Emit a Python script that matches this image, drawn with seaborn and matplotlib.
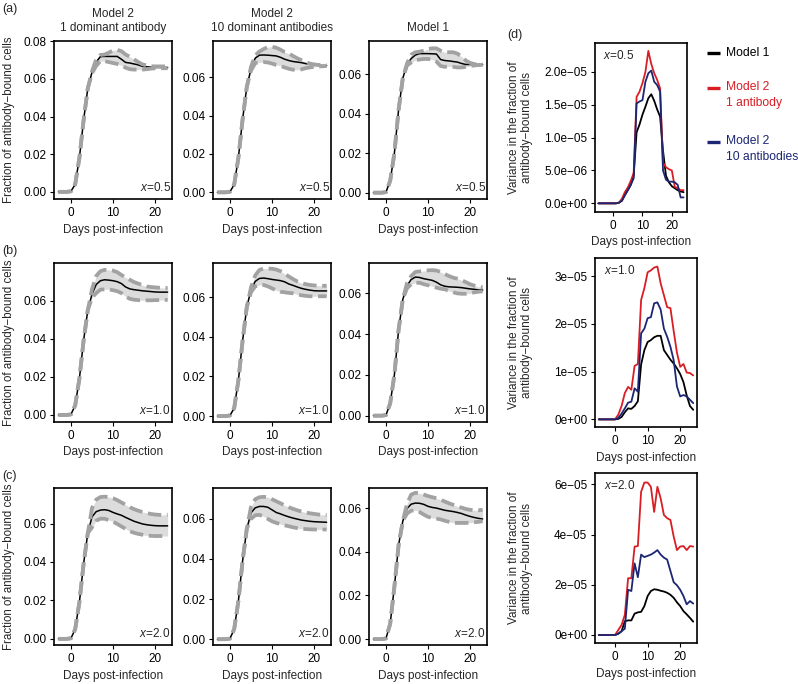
import seaborn as sns
import matplotlib.pyplot as plt
from matplotlib.lines import Line2D
from matplotlib.ticker import FormatStrFormatter

# ---- data -------------------------------------------------------------
days = list(range(-3, 24))          # panels (a)-(c)
var_days = list(range(-5, 25))      # panel (d)

# x = 0.5
x05_m2one_mean = [0, 0, 0, 0.0003, 0.004, 0.018, 0.038, 0.055, 0.0636, 0.069, 0.0719, 0.072, 0.072, 0.072, 0.072,
                  0.0705, 0.0688, 0.0685, 0.068, 0.0675, 0.0667, 0.0665, 0.0663, 0.0662, 0.0662, 0.0661, 0.0661]
x05_m2one_hi = [0, 0, 0, 0.0003, 0.004, 0.018, 0.038, 0.055, 0.064, 0.0705, 0.0728, 0.073, 0.074, 0.0752, 0.0755,
                0.0748, 0.073, 0.0718, 0.0705, 0.069, 0.0678, 0.0672, 0.0668, 0.0667, 0.0667, 0.0667, 0.0667]
x05_m2one_lo = [0, 0, 0, 0.0003, 0.004, 0.018, 0.038, 0.055, 0.063, 0.067, 0.0695, 0.0695, 0.069, 0.0685, 0.068,
                0.0672, 0.066, 0.0652, 0.065, 0.065, 0.065, 0.0652, 0.0655, 0.0657, 0.0657, 0.0657, 0.0657]
x05_m2ten_mean = [0, 0, 0, 0.0003, 0.004, 0.018, 0.038, 0.055, 0.0645, 0.07, 0.0716, 0.0717, 0.0716, 0.0714, 0.0712,
                  0.0705, 0.0695, 0.0688, 0.0683, 0.068, 0.0677, 0.0672, 0.0668, 0.0665, 0.0663, 0.0662, 0.0662]
x05_m2ten_hi = [0, 0, 0, 0.0003, 0.004, 0.018, 0.038, 0.055, 0.0655, 0.0715, 0.0735, 0.0748, 0.0758, 0.076, 0.0755,
                0.0745, 0.0732, 0.0725, 0.0712, 0.07, 0.069, 0.068, 0.0672, 0.0668, 0.0665, 0.0665, 0.0665]
x05_m2ten_lo = [0, 0, 0, 0.0003, 0.004, 0.018, 0.038, 0.055, 0.0635, 0.0675, 0.0678, 0.068, 0.0678, 0.0672, 0.0665,
                0.066, 0.0652, 0.0645, 0.064, 0.064, 0.0642, 0.0648, 0.0652, 0.0655, 0.0657, 0.0658, 0.0659]
x05_m1_mean = [0, 0, 0, 0.0003, 0.006, 0.02, 0.042, 0.058, 0.065, 0.068, 0.0698, 0.0705, 0.0705, 0.0705, 0.0704,
               0.0703, 0.0675, 0.067, 0.0668, 0.0665, 0.0662, 0.0655, 0.065, 0.065, 0.065, 0.065, 0.065]
x05_m1_hi = [0, 0, 0, 0.0003, 0.006, 0.02, 0.042, 0.058, 0.0655, 0.07, 0.0712, 0.0715, 0.072, 0.0728, 0.0732,
             0.0732, 0.072, 0.0712, 0.0712, 0.0712, 0.0705, 0.069, 0.067, 0.0658, 0.0652, 0.065, 0.065]
x05_m1_lo = [0, 0, 0, 0.0003, 0.006, 0.02, 0.042, 0.058, 0.0645, 0.066, 0.0672, 0.0675, 0.0678, 0.0678, 0.0675,
             0.0665, 0.0642, 0.0638, 0.064, 0.0638, 0.0635, 0.0635, 0.0638, 0.0642, 0.0645, 0.0647, 0.0648]

# x = 1.0
x10_m2one_mean = [0, 0, 0, 0.0003, 0.005, 0.019, 0.039, 0.055, 0.0635, 0.0685, 0.0705, 0.071, 0.0708, 0.0705, 0.07,
                  0.069, 0.0672, 0.0662, 0.0658, 0.0655, 0.0652, 0.065, 0.0648, 0.0646, 0.0645, 0.0645, 0.0645]
x10_m2one_hi = [0, 0, 0, 0.0003, 0.005, 0.019, 0.039, 0.055, 0.066, 0.073, 0.0755, 0.0762, 0.0762, 0.0758, 0.075,
                0.0735, 0.0722, 0.071, 0.0698, 0.069, 0.0682, 0.0675, 0.0672, 0.067, 0.0668, 0.0667, 0.0667]
x10_m2one_lo = [0, 0, 0, 0.0003, 0.005, 0.019, 0.039, 0.055, 0.0615, 0.064, 0.0658, 0.066, 0.066, 0.0655, 0.065,
                0.064, 0.0622, 0.061, 0.0605, 0.0603, 0.0602, 0.0602, 0.0602, 0.0603, 0.0603, 0.0604, 0.0604]
x10_m2ten_mean = [0, 0, 0, 0.0003, 0.004, 0.018, 0.038, 0.055, 0.0638, 0.068, 0.0695, 0.0697, 0.0694, 0.069, 0.0687,
                  0.0684, 0.0678, 0.0667, 0.066, 0.0652, 0.0645, 0.064, 0.0636, 0.0633, 0.0632, 0.0632, 0.0632]
x10_m2ten_hi = [0, 0, 0, 0.0003, 0.004, 0.018, 0.038, 0.055, 0.065, 0.071, 0.0738, 0.0745, 0.0745, 0.0744, 0.074,
                0.0732, 0.0718, 0.0705, 0.0692, 0.068, 0.0672, 0.0666, 0.0662, 0.066, 0.0658, 0.0658, 0.0658]
x10_m2ten_lo = [0, 0, 0, 0.0003, 0.004, 0.018, 0.038, 0.055, 0.0625, 0.0655, 0.0662, 0.0662, 0.0655, 0.0645, 0.0635,
                0.0628, 0.0625, 0.0622, 0.062, 0.0615, 0.061, 0.0607, 0.0605, 0.0605, 0.0605, 0.0605, 0.0605]
x10_m1_mean = [0, 0, 0, 0.0003, 0.006, 0.02, 0.042, 0.057, 0.0638, 0.0668, 0.068, 0.0678, 0.0672, 0.0668, 0.0664,
               0.0655, 0.0642, 0.0635, 0.0632, 0.0631, 0.063, 0.0628, 0.0625, 0.0622, 0.062, 0.0617, 0.0616]
x10_m1_hi = [0, 0, 0, 0.0003, 0.006, 0.02, 0.042, 0.057, 0.065, 0.0685, 0.0705, 0.0708, 0.071, 0.0713, 0.0714,
             0.0712, 0.0705, 0.0695, 0.0685, 0.0677, 0.0672, 0.0665, 0.0655, 0.0645, 0.0638, 0.0632, 0.063]
x10_m1_lo = [0, 0, 0, 0.0003, 0.006, 0.02, 0.042, 0.057, 0.0625, 0.0645, 0.0652, 0.0652, 0.0645, 0.064, 0.0635,
             0.0628, 0.0623, 0.062, 0.0612, 0.0605, 0.06, 0.0598, 0.0598, 0.06, 0.0605, 0.0608, 0.061]

# x = 2.0
x20_m2one_mean = [0, 0, 0, 0.0003, 0.005, 0.019, 0.039, 0.055, 0.0635, 0.0662, 0.067, 0.0672, 0.0668, 0.0658, 0.065,
                  0.0643, 0.0632, 0.0622, 0.0612, 0.0605, 0.0598, 0.0594, 0.0591, 0.0589, 0.0588, 0.0588, 0.0588]
x20_m2one_hi = [0, 0, 0, 0.0003, 0.005, 0.019, 0.039, 0.055, 0.068, 0.0725, 0.0738, 0.074, 0.0738, 0.0732, 0.0722,
                0.071, 0.0698, 0.0685, 0.0675, 0.0667, 0.066, 0.0655, 0.065, 0.0647, 0.0645, 0.0645, 0.0647]
x20_m2one_lo = [0, 0, 0, 0.0003, 0.005, 0.019, 0.039, 0.055, 0.058, 0.0615, 0.0625, 0.0625, 0.0618, 0.061, 0.0598,
                0.0585, 0.0572, 0.056, 0.0552, 0.0546, 0.0542, 0.0538, 0.0536, 0.0535, 0.0535, 0.0535, 0.0535]
x20_m2ten_mean = [0, 0, 0, 0.0003, 0.005, 0.019, 0.039, 0.055, 0.063, 0.0655, 0.0662, 0.0662, 0.0658, 0.0645, 0.0632,
                  0.0625, 0.0617, 0.061, 0.0604, 0.0599, 0.0594, 0.0591, 0.0588, 0.0586, 0.0585, 0.0584, 0.0583]
x20_m2ten_hi = [0, 0, 0, 0.0003, 0.005, 0.019, 0.039, 0.055, 0.066, 0.0698, 0.0708, 0.071, 0.0708, 0.0698, 0.0688,
                0.0678, 0.0668, 0.0658, 0.065, 0.0643, 0.0637, 0.0632, 0.0628, 0.0625, 0.0622, 0.062, 0.062]
x20_m2ten_lo = [0, 0, 0, 0.0003, 0.005, 0.019, 0.039, 0.055, 0.06, 0.0618, 0.062, 0.0612, 0.06, 0.0588, 0.058,
                0.0574, 0.0568, 0.0563, 0.0558, 0.0554, 0.0551, 0.0549, 0.0548, 0.0547, 0.0547, 0.0547, 0.0547]
x20_m1_mean = [0, 0, 0, 0.0003, 0.007, 0.024, 0.043, 0.054, 0.0598, 0.0618, 0.0623, 0.0622, 0.0617, 0.0608, 0.0603,
               0.06, 0.0595, 0.059, 0.0587, 0.0584, 0.058, 0.0575, 0.0568, 0.0562, 0.0557, 0.0553, 0.055]
x20_m1_hi = [0, 0, 0, 0.0003, 0.007, 0.024, 0.043, 0.054, 0.062, 0.0662, 0.067, 0.0668, 0.0662, 0.0655, 0.065,
             0.0645, 0.0638, 0.063, 0.0622, 0.0615, 0.0608, 0.0602, 0.0596, 0.0592, 0.059, 0.059, 0.0592]
x20_m1_lo = [0, 0, 0, 0.0003, 0.007, 0.024, 0.043, 0.054, 0.0575, 0.0588, 0.059, 0.0582, 0.057, 0.056, 0.0555,
             0.0552, 0.0548, 0.0542, 0.0537, 0.0533, 0.0532, 0.0532, 0.0532, 0.0533, 0.0535, 0.0537, 0.054]

# variance, panel (d)
var05_m1 = [0, 0, 0, 0, 0, 0, 0, 0.1e-6, 0.4e-6, 1.3e-6, 2.0e-6, 2.8e-6, 4.2e-6, 10.8e-6, 12.0e-6, 13.5e-6, 14.7e-6,
            16.0e-6, 16.6e-6, 15.6e-6, 14.3e-6, 13.2e-6, 8.0e-6, 4.2e-6, 3.2e-6, 2.6e-6, 2.3e-6, 2.0e-6, 1.8e-6, 1.7e-6]
var05_m2one = [0, 0, 0, 0, 0, 0, 0, 0.1e-6, 0.7e-6, 1.7e-6, 2.4e-6, 3.4e-6, 4.6e-6, 16.2e-6, 17.0e-6, 18.3e-6, 20.0e-6,
               23.2e-6, 21.2e-6, 19.8e-6, 18.8e-6, 17.5e-6, 6.2e-6, 5.5e-6, 5.2e-6, 5.0e-6, 2.5e-6, 2.3e-6, 2.0e-6, 2.0e-6]
var05_m2ten = [0, 0, 0, 0, 0, 0, 0, 0.1e-6, 0.4e-6, 1.2e-6, 2.0e-6, 2.8e-6, 3.8e-6, 15.2e-6, 15.5e-6, 15.7e-6, 18.5e-6,
               19.8e-6, 20.2e-6, 18.5e-6, 18.0e-6, 17.0e-6, 5.0e-6, 3.6e-6, 3.3e-6, 3.3e-6, 3.2e-6, 2.8e-6, 0.9e-6, 0.9e-6]
var10_m1 = [0, 0, 0, 0, 0, 0, 0.1e-6, 0.5e-6, 1.5e-6, 2.3e-6, 2.2e-6, 2.8e-6, 3.8e-6, 11.5e-6, 14.5e-6, 16.2e-6, 16.6e-6,
            17.2e-6, 17.5e-6, 17.5e-6, 14.5e-6, 13.5e-6, 12.5e-6, 11.7e-6, 10.7e-6, 9.5e-6, 7.8e-6, 5.0e-6, 2.8e-6, 2.0e-6]
var10_m2one = [0, 0, 0, 0, 0, 0, 1.0e-6, 2.8e-6, 5.5e-6, 6.8e-6, 6.2e-6, 11.2e-6, 11.6e-6, 25.0e-6, 27.5e-6, 30.8e-6,
               31.2e-6, 31.8e-6, 32.0e-6, 28.5e-6, 26.0e-6, 23.5e-6, 23.3e-6, 18.5e-6, 14.0e-6, 11.0e-6, 11.6e-6,
               9.8e-6, 9.7e-6, 9.2e-6]
var10_m2ten = [0, 0, 0, 0, 0, 0, 0.3e-6, 1.2e-6, 2.3e-6, 3.5e-6, 3.7e-6, 6.5e-6, 5.8e-6, 18.0e-6, 19.0e-6, 21.2e-6,
               21.4e-6, 24.3e-6, 24.5e-6, 23.0e-6, 19.0e-6, 17.3e-6, 15.2e-6, 12.4e-6, 6.9e-6, 4.8e-6, 5.1e-6, 4.8e-6,
               4.1e-6, 3.4e-6]
var20_m1 = [0, 0, 0, 0, 0, 0, 0.5e-6, 1.5e-6, 5.5e-6, 5.8e-6, 5.8e-6, 8.5e-6, 9.0e-6, 9.2e-6, 11.5e-6, 15.5e-6, 17.5e-6,
            18.2e-6, 18.0e-6, 17.6e-6, 17.3e-6, 16.8e-6, 16.0e-6, 14.8e-6, 13.0e-6, 11.5e-6, 9.5e-6, 8.2e-6, 6.8e-6,
            5.3e-6]
var20_m2one = [0, 0, 0, 0, 0, 0, 2.0e-6, 4.0e-6, 8.0e-6, 22.6e-6, 22.6e-6, 35.2e-6, 35.4e-6, 57.0e-6, 60.7e-6, 60.7e-6,
               59.0e-6, 49.0e-6, 59.0e-6, 54.4e-6, 47.8e-6, 46.5e-6, 45.8e-6, 39.2e-6, 33.8e-6, 35.2e-6, 35.4e-6,
               33.8e-6, 35.4e-6, 35.2e-6]
var20_m2ten = [0, 0, 0, 0, 0, 0, 0.5e-6, 1.5e-6, 2.5e-6, 18.0e-6, 17.5e-6, 28.5e-6, 23.0e-6, 32.0e-6, 31.0e-6, 31.5e-6,
               32.0e-6, 32.8e-6, 33.8e-6, 32.0e-6, 30.8e-6, 30.0e-6, 25.5e-6, 21.0e-6, 19.8e-6, 18.0e-6, 15.5e-6,
               12.2e-6, 13.5e-6, 12.5e-6]

x_labels = ["x=0.5", "x=1.0", "x=2.0"]
col_titles = ["Model 2\n1 dominant antibody", "Model 2\n10 dominant antibodies", "Model 1"]
row_tags = ["(a)", "(b)", "(c)"]
var_ticks = [[0, 5e-6, 1e-5, 1.5e-5, 2e-5], [0, 1e-5, 2e-5, 3e-5], [0, 2e-5, 4e-5, 6e-5]]
var_ticklabels = [["0.0e+00", "5.0e\u221206", "1.0e\u221205", "1.5e\u221205", "2.0e\u221205"],
                  ["0e+00", "1e\u221205", "2e\u221205", "3e\u221205"],
                  ["0e+00", "2e\u221205", "4e\u221205", "6e\u221205"]]
legend_labels = ["Model 1", "Model 2\n1 antibody", "Model 2\n10 antibodies"]

bands = [
    [(x05_m2one_mean, x05_m2one_lo, x05_m2one_hi), (x05_m2ten_mean, x05_m2ten_lo, x05_m2ten_hi),
     (x05_m1_mean, x05_m1_lo, x05_m1_hi)],
    [(x10_m2one_mean, x10_m2one_lo, x10_m2one_hi), (x10_m2ten_mean, x10_m2ten_lo, x10_m2ten_hi),
     (x10_m1_mean, x10_m1_lo, x10_m1_hi)],
    [(x20_m2one_mean, x20_m2one_lo, x20_m2one_hi), (x20_m2ten_mean, x20_m2ten_lo, x20_m2ten_hi),
     (x20_m1_mean, x20_m1_lo, x20_m1_hi)],
]
variances = [(var05_m1, var05_m2one, var05_m2ten), (var10_m1, var10_m2one, var10_m2ten),
             (var20_m1, var20_m2one, var20_m2ten)]

# ---- style ------------------------------------------------------------
sns.set_style("ticks")
plt.rcParams['font.family'] = ['Liberation Sans', 'DejaVu Sans']
plt.rcParams['mathtext.fontset'] = 'custom'
plt.rcParams['mathtext.rm'] = 'Liberation Sans'
plt.rcParams['mathtext.it'] = 'Liberation Sans:italic'

FS = 8.5
line_cols = ["black", "#d81e24", "#1c2672"]
band_fill = "#dcdcdc"
band_edge = "#a2a2a2"

W, H = 798, 684
fig = plt.figure(figsize=(W / 100, H / 100), dpi=100)


def px_box(x0, x1, y0, y1):
    return [x0 / W, 1 - y1 / H, (x1 - x0) / W, (y1 - y0) / H]


def style_axes(ax):
    for s in ax.spines.values():
        s.set_linewidth(1.2)
        s.set_color("black")
    ax.tick_params(direction="out", length=3, width=0.8, labelsize=FS, pad=2.5, colors="black")


col_x = [(54, 172), (213, 331), (369, 487)]
row_y = [(41, 199), (263, 422), (488, 645)]
ylims = [[(-0.0038, 0.0802), (-0.0035, 0.079), (-0.0032, 0.0769)],
         [(-0.0037, 0.0798), (-0.003, 0.0773), (-0.0031, 0.0749)],
         [(-0.0032, 0.0785), (-0.0029, 0.0754), (-0.0027, 0.0692)]]

for r in range(3):
    for c in range(3):
        ax = fig.add_axes(px_box(col_x[c][0], col_x[c][1], row_y[r][0], row_y[r][1]))
        mean, lo, hi = bands[r][c]
        ax.fill_between(days, lo, hi, color=band_fill, lw=0)
        sns.lineplot(x=days, y=mean, ax=ax, color="black", lw=1.1, errorbar=None)
        for edge in (hi, lo):
            sns.lineplot(x=days, y=edge, ax=ax, color=band_edge, lw=2.7, errorbar=None,
                         linestyle=(0, (3.6, 1.5)))
        ax.set_xticks([0, 10, 20])
        ax.set_yticks([0, 0.02, 0.04, 0.06, 0.08])
        ax.set_xlim(-4.04, 24.04)
        ax.set_ylim(*ylims[r][c])
        ax.yaxis.set_major_formatter(FormatStrFormatter("%.2f"))
        style_axes(ax)
        ax.set_xlabel("Days post-infection", fontsize=FS, labelpad=3.5)
        ax.set_ylabel("")
        if c == 0:
            ax.set_ylabel("Fraction of antibody\u2212bound cells", fontsize=FS - 0.2)
            ax.yaxis.set_label_coords(-0.33, 0.5)
        if r == 0:
            ax.set_title(col_titles[c], fontsize=FS, pad=7)
        ax.text(0.988, 0.03, "$x$" + x_labels[r][1:], transform=ax.transAxes, ha="right", va="bottom",
                fontsize=FS)

# ---- panel (d) -----------------------------------------------------------
d_boxes = [(595, 687, 43, 212), (595, 697, 258, 427), (595, 697, 473, 643)]
d_ylims = [(-1.32e-6, 2.44e-5), (-1.6e-6, 3.38e-5), (-3.2e-6, 6.45e-5)]
for r in range(3):
    x0, x1, y0, y1 = d_boxes[r]
    ax = fig.add_axes(px_box(x0, x1, y0, y1))
    for series, col in zip(variances[r], line_cols):
        sns.lineplot(x=var_days, y=series, ax=ax, color=col, lw=1.3, errorbar=None)
    ax.set_xticks([0, 10, 20])
    ax.set_yticks(var_ticks[r])
    ax.set_yticklabels(var_ticklabels[r])
    ax.set_xlim(-6.16, 25.16)
    ax.set_ylim(*d_ylims[r])
    style_axes(ax)
    ax.set_xlabel("Days post-infection", fontsize=FS, labelpad=3.5)
    ax.set_ylabel("Variance in the fraction of\nantibody\u2212bound cells", fontsize=FS, linespacing=1.15)
    ax.yaxis.set_label_coords((533 - x0) / (x1 - x0), 0.5)
    ax.text(0.09, 0.965, "$x$" + x_labels[r][1:], transform=ax.transAxes, ha="left", va="top", fontsize=FS)

# legend for (d)
leg_y = [53, 88, 142]
for lab, col, yy in zip(legend_labels, line_cols, leg_y):
    fig.add_artist(Line2D([707 / W, 720 / W], [1 - yy / H, 1 - yy / H], color=col, lw=2.4,
                          solid_capstyle="butt"))
    fig.text(726 / W, 1 - (yy - 6.5) / H, lab, color=col, fontsize=FS + 0.2, ha="left", va="top",
             linespacing=1.4)

# panel tags
for tag, yy in zip(row_tags, [9, 251, 476]):
    fig.text(2 / W, 1 - yy / H, tag, fontsize=FS + 0.5, ha="left", va="center")
fig.text(507 / W, 1 - 35 / H, "(d)", fontsize=FS + 0.5, ha="left", va="center")

fig.savefig("out.png", dpi=100)
